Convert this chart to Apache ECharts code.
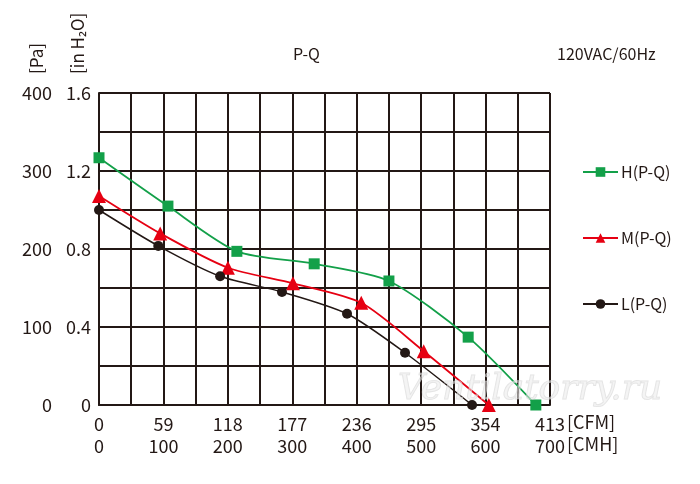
<!DOCTYPE html>
<html>
<head>
<meta charset="utf-8">
<script src="https://cdn.jsdelivr.net/npm/echarts@6/dist/echarts.min.js"></script>
<style>
  html, body { margin: 0; padding: 0; background: #fff; }
  #chart { width: 700px; height: 484px; }
</style>
</head>
<body>
<div id="chart"></div>
<script>
// airflow in CMH, pressure in Pa
var hCmh = [0, 107, 214, 334, 450, 573, 678];
var hPa = [317, 255, 197, 181, 159, 87, 0];
var mCmh = [0, 95, 200, 301, 407, 504, 605];
var mPa = [268, 220, 176, 156, 131, 69, 0];
var lCmh = [0, 92, 188, 284, 385, 475, 579];
var lPa = [250, 204, 165, 145, 117, 67, 0];
var cfmLabels = ['0', '59', '118', '177', '236', '295', '354', '413'];

var ink = '#231815';
var font = '"Noto Sans CJK SC", "Noto Sans", sans-serif';

function pairs(xs, ys) {
  var out = [];
  for (var i = 0; i < xs.length; i++) out.push([xs[i], ys[i]]);
  return out;
}

var myChart = echarts.init(document.getElementById('chart'));
var option = {
  animation: false,
  textStyle: { fontFamily: font, color: ink },
  grid: { left: 99, right: 150, top: 93, bottom: 79 },
  graphic: [
    { type: 'text', left: 293, top: 46, style: { text: 'P-Q', fontSize: 16, fontFamily: font, fill: ink } },
    { type: 'text', left: 557, top: 46, style: { text: '120VAC/60Hz', fontSize: 16, fontFamily: font, fill: ink } },
    { type: 'text', x: 37, y: 74, rotation: Math.PI / 2,
      style: { text: '[Pa]', fontSize: 17, fontFamily: font, fill: ink, align: 'left', verticalAlign: 'middle' } },
    { type: 'text', x: 78, y: 74, rotation: Math.PI / 2,
      style: { text: '[in H\u2082O]', fontSize: 17, fontFamily: font, fill: ink, align: 'left', verticalAlign: 'middle' } },
    { type: 'text', left: 567, top: 411,
      style: { text: '[CFM]\n[CMH]', fontSize: 18, lineHeight: 22, fontFamily: font, fill: ink } },
    { type: 'text', x: 398, y: 372, z: 100,
      style: { text: 'Ventilatorry.ru', fontSize: 36, fontStyle: 'italic', fontFamily: 'DejaVu Serif, serif',
        fill: 'rgba(235,235,235,0.55)', stroke: 'rgba(200,200,200,0.5)', lineWidth: 1 } }
  ],
  legend: {
    orient: 'vertical',
    left: 577,
    top: 159,
    itemWidth: 35,
    itemHeight: 12,
    itemGap: 50,
    textStyle: { fontSize: 16, fontFamily: font, color: ink, padding: [0, 0, 0, -2] },
    data: ['H(P-Q)', 'M(P-Q)', 'L(P-Q)']
  },
  xAxis: {
    type: 'value',
    min: 0,
    max: 700,
    interval: 50,
    axisLine: { show: true, lineStyle: { color: ink, width: 2 } },
    axisTick: { show: false },
    splitLine: { show: true, lineStyle: { color: ink, width: 2 } },
    axisLabel: {
      margin: 8,
      fontSize: 18,
      lineHeight: 22,
      color: ink,
      formatter: function (v) {
        if (v % 100 !== 0) return '';
        return cfmLabels[v / 100] + '\n' + v;
      }
    }
  },
  yAxis: [
    {
      type: 'value',
      min: 0,
      max: 400,
      interval: 50,
      axisLine: { show: true, lineStyle: { color: ink, width: 2 } },
      axisTick: { show: false },
      splitLine: { show: true, lineStyle: { color: ink, width: 2 } },
      axisLabel: {
        margin: 47,
        fontSize: 18,
        color: ink,
        formatter: function (v) { return v % 100 === 0 ? v : ''; }
      }
    },
    {
      type: 'value',
      position: 'left',
      min: 0,
      max: 1.6,
      interval: 0.4,
      axisLine: { show: false },
      axisTick: { show: false },
      splitLine: { show: false },
      axisLabel: {
        margin: 8,
        fontSize: 18,
        color: ink,
        formatter: function (v) { return v === 0 ? '0' : v.toFixed(1); }
      }
    }
  ],
  series: [
    {
      name: 'H(P-Q)',
      type: 'line',
      smooth: 0.25,
      symbol: 'rect',
      symbolSize: 11,
      color: '#13a049',
      lineStyle: { width: 1.8 },
      data: pairs(hCmh, hPa)
    },
    {
      name: 'M(P-Q)',
      type: 'line',
      smooth: 0.25,
      symbol: 'triangle',
      symbolSize: 14,
      color: '#e60012',
      lineStyle: { width: 1.8 },
      data: pairs(mCmh, mPa)
    },
    {
      name: 'L(P-Q)',
      type: 'line',
      smooth: 0.25,
      symbol: 'circle',
      symbolSize: 10,
      color: ink,
      lineStyle: { width: 1.5 },
      data: pairs(lCmh, lPa)
    }
  ]
};
myChart.setOption(option);
window.addEventListener('resize', function () {
  myChart.resize();
});
</script>
</body>
</html>
